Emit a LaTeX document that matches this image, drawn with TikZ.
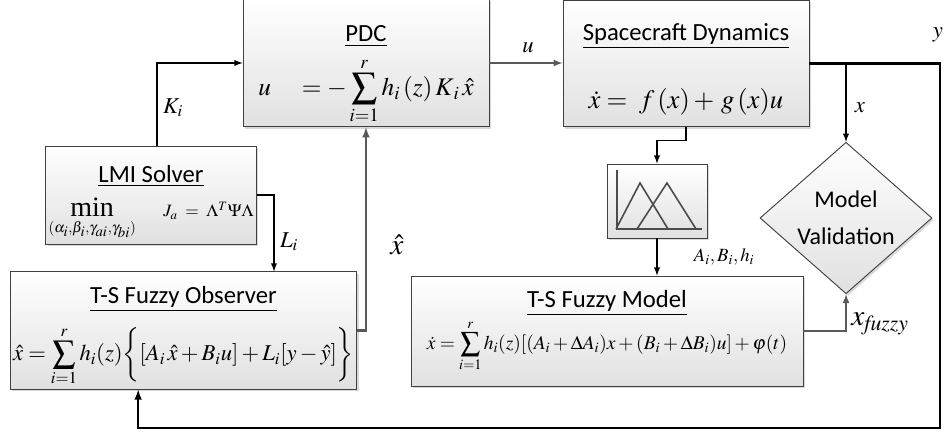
\documentclass[tikz,border=0pt]{standalone}
\usepackage{mathptmx}
\usepackage{fontspec}
\setmainfont{Liberation Serif}
\setsansfont{Carlito}
\usetikzlibrary{positioning, shapes.geometric, shadows}

\begin{document}
\begin{tikzpicture}[x=0.75pt, y=-0.75pt, >=latex,
	block/.style={draw=black!75, line width=0.7pt, top color=white, bottom color=black!12,
		drop shadow={shadow xshift=1.5pt, shadow yshift=-1.5pt, opacity=0.3},
		align=center, inner sep=2pt, font=\fontsize{18.5}{22}\selectfont},
	wire/.style={line width=1.1pt},
	gwire/.style={line width=1.3pt, draw=black!65},
	ywire/.style={line width=1.6pt},
	lab/.style={font=\fontsize{17}{20}\selectfont, inner sep=1pt}]

	\useasboundingbox (0,0) rectangle (944,434);

	\node[block, minimum width=184.5pt, minimum height=94.5pt] (pdc) at (366,63)
		{\rule{0pt}{30pt}\textsf{\underline{PDC}}\\[7pt]
		{\fontsize{19}{22}\selectfont$\displaystyle u\quad= -\sum_{i=1}^{r} h_i\,(z)\,K_{\,i}\,\hat{x}$}};
	\node[block, minimum width=184.5pt, minimum height=95pt] (sd) at (686,63.5)
		{\rule{0pt}{21pt}\textsf{\underline{Spacecraft Dynamics}}\\[29pt]
		{\fontsize{20}{22}\selectfont$\dot{x} = \; f\,(x) + \, g\,(x)u$}};
	\node[block, minimum width=138pt, minimum height=73.5pt] (lmi) at (151,195)
		{\rule{0pt}{24pt}\textsf{\underline{LMI Solver}}\\[4pt]
		$\displaystyle\mathop{\hbox{\fontsize{21}{22}\selectfont min}}_{\scriptscriptstyle(\alpha_i,\beta_i,\gamma_{ai},\gamma_{bi})}
		\quad\hbox{\fontsize{13}{15}\selectfont$J_a \;=\; \Lambda^T\Psi\Lambda$}$};
	\node[block, minimum width=257pt, minimum height=83pt] (obs) at (183.5,330.5)
		{\rule{0pt}{21.5pt}\textsf{\underline{T-S Fuzzy Observer}}\\[10pt]
		{\fontsize{17}{20}\selectfont$\displaystyle \hat{x} = \sum_{i=1}^{r} h_i(z)\bigg\{[A_i\,\hat{x}+B_iu] + L_i[y-\hat{y}]\bigg\}$}};
	\node[block, minimum width=75pt, minimum height=55.5pt] (mf) at (657,201) {};
	\node[block, minimum width=294pt, minimum height=82.5pt] (tsm) at (607,331)
		{\textsf{\underline{T-S Fuzzy Model}}\\[2pt]
		{\fontsize{14.6}{18}\selectfont$\displaystyle\dot{x} = \sum_{i=1}^{r} h_i(z)[(A_i+\Delta A_i)x+(B_i+\Delta B_i)u]+\varphi(t)$}};
	\node[block, diamond, minimum width=129pt, minimum height=109.5pt, inner sep=0pt,
		font=\sffamily\fontsize{18}{28}\selectfont] (val) at (846,218) {Model\\Validation};

	% membership functions
	\draw[black!70, line width=1.2pt] (617,170) -- (617,229) -- (702,229);
	\draw[black!70, line width=1.2pt] (616,229) -- (640,183) -- (668,229);
	\draw[black!70, line width=1.2pt] (637,229) -- (667,183) -- (696,229);

	\coordinate (lx) at (274,195);
	\coordinate (yr) at (940,428);

	\draw[->, gwire] (pdc.east) -- (pdc.east -| sd.west);
	\draw[->, wire] ([xshift=4.5pt]lmi.north) |- (pdc.west);
	\draw[->, wire] (lmi.east) -- (lx) -- (lx |- obs.north);
	\draw[->, gwire, line width=1.6pt] (obs.east) -| (pdc.south);
	\draw[->, wire] (sd.south) -- ++(0,13) -| (mf.north);
	\draw[->, wire] (mf.south) -- (mf.south |- tsm.north);
	\draw[->, gwire] (tsm.east) -| (val.south);
	\draw[->, wire] (val.north |- sd.east) -- (val.north);
	\draw[->, ywire] (sd.east) -| (yr) -| ([xshift=-34pt]obs.south);

	\node[lab] (ulab) at (528,48) {$u$};
	\node[lab] (klab) at (173,108) {$K_i$};
	\node[lab] (llab) at (289,242) {$L_i$};
	\node[lab, font=\fontsize{22}{24}\selectfont] (xhlab) at (397,245) {$\hat{x}$};
	\node[lab] (xlab) at (860,108) {$x$};
	\node[lab] (ylab) at (938,35) {$y$};
	\node[lab, font=\fontsize{14}{16}\selectfont] (ablab) at (724,257) {$A_i,B_i,h_i$};
	\node[lab, font=\fontsize{22}{24}\selectfont] (xflab) at (880,324) {$x_{\mathit{fuzzy}}$};

\end{tikzpicture}
\end{document}
